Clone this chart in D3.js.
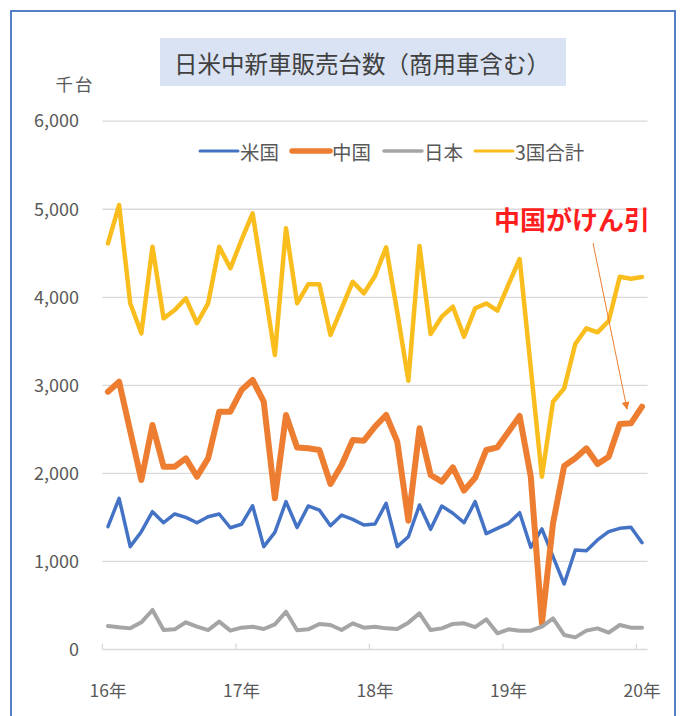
<!DOCTYPE html>
<html><head><meta charset="utf-8">
<script src="https://cdn.jsdelivr.net/npm/d3@7"></script>
<style>
html,body{margin:0;padding:0;background:#fff;}
text{font-family:"Noto Sans CJK JP","Noto Sans",sans-serif;}
</style></head>
<body><svg id="c" width="682" height="716"></svg>
<script>
// ---- data (thousand units, monthly Jan-2016 .. Jan-2020) ----
const years = ["2016","2017","2018","2019"];
const months = [];
years.forEach(yr => { for (let m = 1; m <= 12; m++) months.push(yr + "-" + String(m).padStart(2,"0")); });
months.push("2020-01");

const usa = [1395,1717,1168,1338,1565,1440,1539,1501,1440,1508,1539,1383,
             1422,1633,1168,1331,1679,1385,1630,1584,1406,1527,1478,1414,
             1425,1660,1168,1281,1641,1365,1630,1547,1440,1679,1316,1376,
             1433,1554,1161,1369,1054,744,1130,1122,1244,1338,1376,1388,1213];
const china = [2928,3042,2480,1925,2550,2076,2076,2171,1963,2171,2701,2701,
               2947,3061,2814,1717,2663,2294,2285,2266,1880,2095,2379,2372,
               2531,2663,2360,1463,2512,1982,1906,2069,1804,1950,2266,2296,
               2474,2652,1963,297,1433,2084,2171,2285,2107,2190,2561,2569,2758];
const japan = [267,252,240,309,449,221,229,309,259,221,316,214,
               248,259,233,286,429,218,229,290,278,221,297,248,
               259,240,233,305,411,221,240,290,297,255,343,184,
               229,214,214,259,354,165,138,214,240,191,278,248,248];
const total = [4613,5048,3932,3591,4575,3761,3856,3988,3705,3932,4575,4329,
               4651,4954,4159,3345,4784,3932,4147,4147,3572,3875,4177,4045,
               4242,4568,3833,3053,4583,3583,3780,3893,3553,3875,3930,3848,
               4146,4435,3197,1963,2814,2966,3470,3648,3602,3731,4234,4211,4230];

const seriesNames = ["米国","中国","日本","3国合計"];
const seriesData = [usa, china, japan, total];
const seriesColors = ["#4472C4","#ED7D31","#A5A5A5","#FABD1E"];
const seriesWidths = [3.5, 6, 4, 4.5];
const legendWidths = [3, 5.5, 3.5, 3];

const yTicks = [0,1000,2000,3000,4000,5000,6000];
const xLabelMonths = ["2016-01","2017-01","2018-01","2019-01","2020-01"];
const xLabels = ["16年","17年","18年","19年","20年"];
const titleText = "日米中新車販売台数（商用車含む）";
const unitText = "千台";
const noteText = "中国がけん引";

// ---- drawing ----
(function () {
const svg = d3.select("#c");
const pL = 102.4, pR = 647.6, pT = 121.2, pB = 649.5;

const x = d3.scaleBand().domain(months).range([pL, pR]).padding(0);
const cx = d => x(d) + x.bandwidth() / 2;
const y = d3.scaleLinear().domain([0, 6000]).range([pB, pT]);

// outer frame
svg.append("rect").attr("x", 11).attr("y", 11).attr("width", 664).attr("height", 720)
  .attr("fill", "none").attr("stroke", "#4472C4").attr("stroke-width", 1.8);

// title
svg.append("rect").attr("x", 160).attr("y", 38).attr("width", 406).attr("height", 48)
  .attr("fill", "#DAE3F3");
svg.append("text").attr("x", 362).attr("y", 63).attr("text-anchor", "middle")
  .attr("dominant-baseline", "central").attr("font-size", 23.5).attr("fill", "#404040")
  .text(titleText);

// unit
svg.append("text").attr("x", 75).attr("y", 83).attr("text-anchor", "middle")
  .attr("dominant-baseline", "central").attr("font-size", 17.5).attr("fill", "#595959")
  .attr("letter-spacing", 2).text(unitText);

// gridlines
svg.append("g").selectAll("line").data(yTicks.filter(d => d > 0)).join("line")
  .attr("x1", pL).attr("x2", pR).attr("y1", d => y(d)).attr("y2", d => y(d))
  .attr("stroke", "#D9D9D9").attr("stroke-width", 1.3);

// y axis labels
const yAxis = d3.axisLeft(y).tickValues(yTicks).tickSize(0).tickPadding(0)
  .tickFormat(d3.format(","));
const gy = svg.append("g").attr("transform", `translate(${79},0)`).call(yAxis);
gy.select(".domain").remove();
gy.selectAll("text").attr("font-size", 18).attr("fill", "#595959")
  .attr("font-family", "'Noto Sans','Noto Sans CJK JP',sans-serif");

// x axis
svg.append("line").attr("x1", pL).attr("x2", pR).attr("y1", pB).attr("y2", pB)
  .attr("stroke", "#D9D9D9").attr("stroke-width", 1.3);
const tickPos = xLabelMonths.map(m => x(m));
svg.append("g").selectAll("line").data(tickPos).join("line")
  .attr("x1", d => d).attr("x2", d => d).attr("y1", pB - 6).attr("y2", pB)
  .attr("stroke", "#D9D9D9").attr("stroke-width", 1.3);
const xAxis = d3.axisBottom(x).tickValues(xLabelMonths).tickSize(0).tickPadding(0)
  .tickFormat((d, i) => xLabels[i]);
const gx = svg.append("g").attr("transform", `translate(0,${pB + 40})`).call(xAxis);
gx.select(".domain").remove();
gx.selectAll("text").attr("font-size", 17.5).attr("fill", "#595959").attr("dy", null)
  .attr("dominant-baseline", "central");

// lines
const line = d3.line().x((d, i) => cx(months[i])).y(d => y(d)).curve(d3.curveLinear);
seriesData.forEach((s, k) => {
  svg.append("path").datum(s).attr("d", line).attr("fill", "none")
    .attr("stroke", seriesColors[k]).attr("stroke-width", seriesWidths[k])
    .attr("stroke-linejoin", "round").attr("stroke-linecap", "round");
});

// legend
const legendX = [200, 292, 384, 475];
const lg = svg.append("g");
seriesNames.forEach((n, k) => {
  lg.append("line").attr("x1", legendX[k]).attr("x2", legendX[k] + 38)
    .attr("y1", 151).attr("y2", 151).attr("stroke", seriesColors[k])
    .attr("stroke-width", legendWidths[k]).attr("stroke-linecap", "round");
  lg.append("text").attr("x", legendX[k] + 40).attr("y", 151)
    .attr("dominant-baseline", "central").attr("font-size", 19.5).attr("fill", "#595959")
    .text(n);
});

// annotation
svg.append("text").attr("x", 572).attr("y", 218).attr("text-anchor", "middle")
  .attr("dominant-baseline", "central").attr("font-size", 26).attr("font-weight", "bold")
  .attr("fill", "#FF1E1E").text(noteText);
svg.append("defs").append("marker").attr("id", "arr").attr("viewBox", "0 0 10 10")
  .attr("refX", 9).attr("refY", 5).attr("markerWidth", 8).attr("markerHeight", 8)
  .attr("orient", "auto").attr("markerUnits", "userSpaceOnUse")
  .append("path").attr("d", "M0,0 L10,5 L0,10 z").attr("fill", "#ED7D31");
svg.append("line").attr("x1", 593).attr("y1", 243).attr("x2", 627).attr("y2", 409)
  .attr("stroke", "#ED7D31").attr("stroke-width", 1).attr("marker-end", "url(#arr)");
})();
</script></body></html>
